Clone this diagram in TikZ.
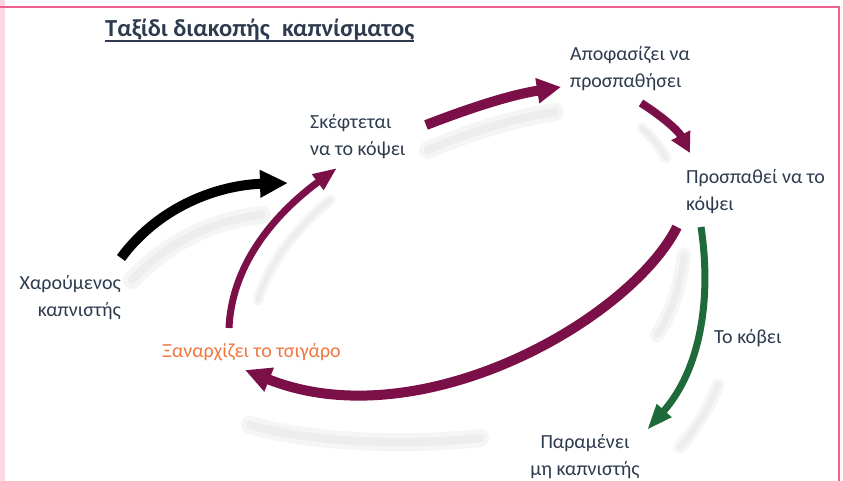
\documentclass[tikz,border=0pt]{standalone}
\usepackage{fontspec}
\setmainfont{Carlito}
\usetikzlibrary{arrows.meta}
\definecolor{txt}{HTML}{2E3B4E}
\definecolor{plum}{HTML}{7B1048}
\definecolor{grn}{HTML}{1E6A3A}
\definecolor{orng}{HTML}{F07840}
\definecolor{pinkline}{HTML}{F0608E}
\definecolor{pinkstrip}{HTML}{FBD8E0}
\begin{document}
\begin{tikzpicture}[x=1pt,y=-1pt,
  lbl/.style={text=txt,inner sep=0pt,font=\fontsize{20}{27}\selectfont},
  arr/.style={line width=#1,line cap=butt},
  shadowline/.style={line width=#1,draw=black!4,line cap=round},
  shadowcore/.style={line width=#1,draw=black!7,line cap=round},
]
\useasboundingbox (0,0) rectangle (843,481);
\fill[white] (0,0) rectangle (843,481);
\fill[pinkstrip] (0,0) rectangle (5,481);
\draw[pinkline,line width=2.5pt] (0,7) -- (839,7) -- (839,481);

% shadows
\foreach \w/\s in {18/shadowline,8/shadowcore}{
\draw[\s=\w] (428,150) .. controls (470,132) and (515,118) .. (555,112);
\draw[\s=\w*0.6] (642,128) .. controls (652,137) and (660,147) .. (666,158);
\draw[\s=\w] (132,280) .. controls (170,240) and (215,220) .. (262,215);
\draw[\s=\w*0.8] (684,255) .. controls (680,290) and (670,315) .. (657,335);
\draw[\s=\w] (250,425) .. controls (320,445) and (420,445) .. (480,438);
\draw[\s=\w*0.7] (718,385) .. controls (708,410) and (695,430) .. (680,447);
\draw[\s=\w*0.6] (258,300) .. controls (270,260) and (300,225) .. (330,200);
}

% labels
\node[lbl,anchor=base west] (title) at (105,37) {\fontsize{24.5}{27}\selectfont\bfseries Ταξίδι διακοπής\hspace{0.5em}καπνίσματος};
\draw[txt,line width=1.8pt] ([yshift=-4]title.base west) -- ([yshift=-4]title.base east);
\node[lbl,align=left,anchor=west] (think) at (310,137) {Σκέφτεται\\να το κόψει};
\node[lbl,align=left,anchor=west] (decide) at (570,69) {Αποφασίζει να\\προσπαθήσει};
\node[lbl,align=left,anchor=west] (try) at (686,192) {Προσπαθεί να το\\κόψει};
\node[lbl,align=right,anchor=east] (happy) at (121,298) {Χαρούμενος\\καπνιστής};
\node[lbl,text=orng,anchor=west] (relapse) at (162,352) {Ξαναρχίζει το τσιγάρο};
\node[lbl,anchor=west] (quits) at (714,338) {Το κόβει};
\node[lbl,align=center,anchor=south] (stay) at (585,479) {Παραμένει\\μη καπνιστής};

% arrow end points
\coordinate (a1s) at (426,125); \coordinate (a1e) at (561,87);
\coordinate (a2s) at (641,103); \coordinate (a2e) at (690,153);
\coordinate (a3s) at (677,227); \coordinate (a3e) at (245,370);
\coordinate (a4s) at (229,328); \coordinate (a4e) at (337,168);
\coordinate (a5s) at (121,258); \coordinate (a5e) at (288,183);
\coordinate (a6s) at (701,227); \coordinate (a6e) at (647,430);

\draw[plum,arr=10pt,-{Triangle[width=24pt,length=24pt]}] (a1s) .. controls (470,108) and (510,95) .. (a1e);
\draw[plum,arr=8pt,-{Triangle[width=20pt,length=20pt]}] (a2s) .. controls (660,115) and (678,130) .. (a2e);
\draw[plum,arr=10pt,-{Triangle[width=24pt,length=26pt]}] (a3s) .. controls (630,320) and (420,440) .. (a3e);
\draw[plum,arr=7pt,-{Triangle[width=18pt,length=24pt]}] (a4s) .. controls (232,260) and (280,210) .. (a4e);
\draw[black,arr=10pt,-{Triangle[width=26pt,length=28pt]}] (a5s) .. controls (160,205) and (220,185) .. (a5e);
\draw[grn,arr=7pt,-{Triangle[width=18pt,length=26pt]}] (a6s) .. controls (712,300) and (700,370) .. (a6e);
\end{tikzpicture}
\end{document}
